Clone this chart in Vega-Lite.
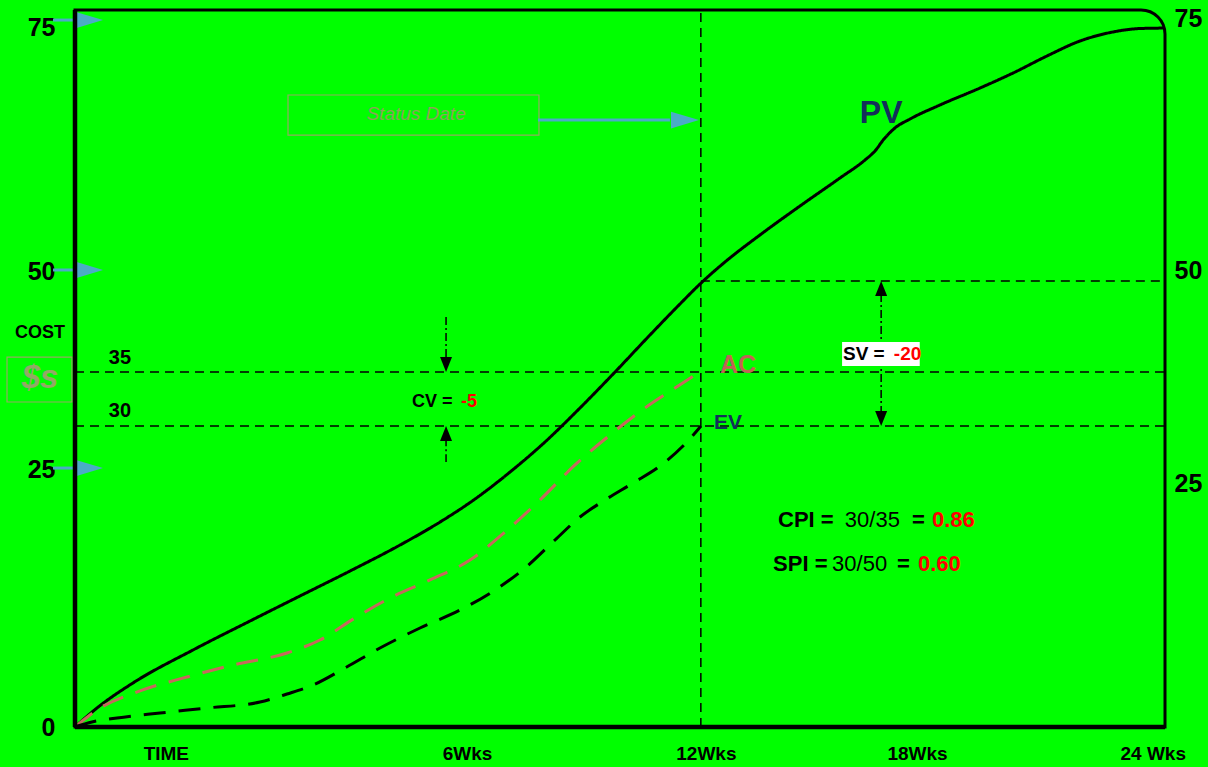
{
  "$schema": "https://vega.github.io/schema/vega-lite/v6.json",
  "width": 1090,
  "height": 717,
  "autosize": {"type": "none"},
  "padding": {"left": 75, "top": 10, "right": 43, "bottom": 40},
  "background": "#00ff00",
  "config": {
    "view": {"stroke": null},
    "text": {"font": "Liberation Sans"},
    "axis": {"labelFont": "Liberation Sans", "domain": false, "ticks": false, "grid": false, "labelFlush": false, "labelOverlap": false, "labelColor": "#000000", "labelFontWeight": "bold"}
  },
  "datasets": {
    "curves": [
      {"s": "PV", "x": 0, "y": 0}, {"s": "PV", "x": 0.484, "y": 2.04}, {"s": "PV", "x": 1.277, "y": 4.73}, {"s": "PV", "x": 2.598, "y": 8.27},
      {"s": "PV", "x": 3.853, "y": 11.38}, {"s": "PV", "x": 4.954, "y": 14.07}, {"s": "PV", "x": 6.055, "y": 16.75}, {"s": "PV", "x": 7.156, "y": 19.54},
      {"s": "PV", "x": 8.037, "y": 22.01}, {"s": "PV", "x": 8.807, "y": 24.48}, {"s": "PV", "x": 9.578, "y": 27.38}, {"s": "PV", "x": 10.349, "y": 30.61},
      {"s": "PV", "x": 11.119, "y": 34.26}, {"s": "PV", "x": 11.89, "y": 38.12}, {"s": "PV", "x": 12.66, "y": 42.1}, {"s": "PV", "x": 13.321, "y": 45.43},
      {"s": "PV", "x": 13.761, "y": 47.57}, {"s": "PV", "x": 14.312, "y": 49.94}, {"s": "PV", "x": 15.082, "y": 52.84}, {"s": "PV", "x": 15.963, "y": 55.95},
      {"s": "PV", "x": 16.844, "y": 58.96}, {"s": "PV", "x": 17.394, "y": 60.89}, {"s": "PV", "x": 17.614, "y": 61.86}, {"s": "PV", "x": 17.812, "y": 63.14},
      {"s": "PV", "x": 18.054, "y": 64.33}, {"s": "PV", "x": 18.385, "y": 65.29}, {"s": "PV", "x": 19.046, "y": 66.8}, {"s": "PV", "x": 19.926, "y": 68.62},
      {"s": "PV", "x": 20.653, "y": 70.23}, {"s": "PV", "x": 21.401, "y": 72.06}, {"s": "PV", "x": 22.128, "y": 73.67}, {"s": "PV", "x": 22.855, "y": 74.64},
      {"s": "PV", "x": 23.449, "y": 75.01}, {"s": "PV", "x": 24.0, "y": 75.06},
      {"s": "AC", "x": 0, "y": 0}, {"s": "AC", "x": 0.484, "y": 1.83}, {"s": "AC", "x": 1.431, "y": 3.87}, {"s": "AC", "x": 2.466, "y": 5.37},
      {"s": "AC", "x": 3.479, "y": 6.66}, {"s": "AC", "x": 4.668, "y": 7.95}, {"s": "AC", "x": 5.394, "y": 9.34}, {"s": "AC", "x": 6.165, "y": 11.71},
      {"s": "AC", "x": 6.936, "y": 13.85}, {"s": "AC", "x": 7.816, "y": 15.79}, {"s": "AC", "x": 8.697, "y": 17.93}, {"s": "AC", "x": 9.468, "y": 20.94},
      {"s": "AC", "x": 10.239, "y": 24.38}, {"s": "AC", "x": 11.009, "y": 28.14}, {"s": "AC", "x": 11.78, "y": 31.36}, {"s": "AC", "x": 12.55, "y": 34.26},
      {"s": "AC", "x": 13.211, "y": 36.4}, {"s": "AC", "x": 13.783, "y": 38.23},
      {"s": "EV", "x": 0, "y": 0}, {"s": "EV", "x": 0.374, "y": 0.54}, {"s": "EV", "x": 0.925, "y": 0.97}, {"s": "EV", "x": 1.872, "y": 1.5},
      {"s": "EV", "x": 2.906, "y": 2.04}, {"s": "EV", "x": 4.073, "y": 2.68}, {"s": "EV", "x": 4.668, "y": 3.54}, {"s": "EV", "x": 5.24, "y": 4.51},
      {"s": "EV", "x": 5.945, "y": 6.34}, {"s": "EV", "x": 6.715, "y": 8.48}, {"s": "EV", "x": 7.596, "y": 10.63}, {"s": "EV", "x": 8.477, "y": 12.56},
      {"s": "EV", "x": 9.248, "y": 14.71}, {"s": "EV", "x": 9.908, "y": 17.07}, {"s": "EV", "x": 10.569, "y": 20.08}, {"s": "EV", "x": 11.119, "y": 22.55},
      {"s": "EV", "x": 11.67, "y": 24.38}, {"s": "EV", "x": 12.286, "y": 26.2}, {"s": "EV", "x": 12.881, "y": 28.03}, {"s": "EV", "x": 13.475, "y": 30.61},
      {"s": "EV", "x": 13.783, "y": 32.32}
    ],
    "frame": [{"x": 0, "x2": 24, "y": 0, "y2": 77}],
    "borders": [{"x": 0, "x2": 0, "y": 0, "y2": 77}, {"x": 0, "x2": 24, "y": 0, "y2": 0}],
    "refLines": [
      {"x": 0, "x2": 24, "y": 38.12, "y2": 38.12},
      {"x": 0, "x2": 24, "y": 32.32, "y2": 32.32},
      {"x": 13.78, "x2": 24, "y": 47.9, "y2": 47.9},
      {"x": 13.78, "x2": 13.78, "y": 0, "y2": 77}
    ],
    "boxes": [
      {"x": -1.497, "x2": -0.066, "y": 34.9, "y2": 39.73},
      {"x": 4.69, "x2": 10.216, "y": 63.57, "y2": 67.87}
    ],
    "whiteBox": [{"x": 16.89, "x2": 18.6, "y": 38.77, "y2": 41.34}],
    "cyanArrows": [
      {"x": -0.484, "x2": 0.1, "tip": 0.617, "y": 75.92},
      {"x": -0.484, "x2": 0.1, "tip": 0.617, "y": 49.08},
      {"x": -0.484, "x2": 0.1, "tip": 0.617, "y": 27.81},
      {"x": 10.194, "x2": 13.1, "tip": 13.74, "y": 65.18}
    ],
    "dashDot": [
      {"x": 8.17, "x2": 8.17, "y": 44.03, "y2": 39.5},
      {"x": 8.17, "x2": 8.17, "y": 31.0, "y2": 28.46},
      {"x": 17.75, "x2": 17.75, "y": 46.5, "y2": 33.5}
    ],
    "heads": [
      {"x": 8.17, "y": 38.12, "dir": "down"},
      {"x": 8.17, "y": 32.32, "dir": "up"},
      {"x": 17.75, "y": 47.9, "dir": "up"},
      {"x": 17.75, "y": 32.32, "dir": "down"}
    ],
    "labels": [
      {"g": "cost", "text": "COST", "x": -0.77, "y": 42.31},
      {"g": "dollar", "text": "$s", "x": -0.77, "y": 37.48},
      {"g": "lvl", "text": "35", "x": 0.99, "y": 39.63},
      {"g": "lvl", "text": "30", "x": 0.99, "y": 33.93},
      {"g": "cvb", "text": "CV =", "x": 7.42, "y": 34.9},
      {"g": "cvr", "text": "-5", "x": 8.5, "y": 34.9},
      {"g": "svb", "text": "SV =", "x": 16.91, "y": 40.06},
      {"g": "svr", "text": "-20", "x": 18.03, "y": 40.06},
      {"g": "idxb", "text": "CPI =", "x": 15.48, "y": 22.23},
      {"g": "idxn", "text": "30/35", "x": 16.95, "y": 22.23},
      {"g": "idxb", "text": "=", "x": 18.43, "y": 22.23},
      {"g": "idxr", "text": "0.86", "x": 18.87, "y": 22.23},
      {"g": "idxb", "text": "SPI =", "x": 15.37, "y": 17.5},
      {"g": "idxn", "text": "30/50", "x": 16.67, "y": 17.5},
      {"g": "idxb", "text": "=", "x": 18.1, "y": 17.5},
      {"g": "idxr", "text": "0.60", "x": 18.56, "y": 17.5},
      {"g": "pv", "text": "PV", "x": 17.75, "y": 65.94},
      {"g": "ac", "text": "AC", "x": 14.2, "y": 38.87},
      {"g": "ev", "text": "EV", "x": 14.07, "y": 32.65},
      {"g": "status", "text": "Status Date", "x": 7.51, "y": 65.83}
    ],
    "rightAxis": [{"x": 24, "y": 26.2}, {"x": 24, "y": 49.0}, {"x": 24, "y": 76.14}]
  },
  "encoding": {
    "x": {
      "field": "x", "type": "quantitative",
      "scale": {"domain": [0, 24], "nice": false, "zero": false},
      "axis": {
        "values": [2.0, 8.63, 13.89, 18.54, 23.73],
        "labelExpr": "datum.value < 5 ? 'TIME' : datum.value < 11 ? '6Wks' : datum.value < 16 ? '12Wks' : datum.value < 21 ? '18Wks' : '24 Wks'",
        "labelFontSize": 19, "labelPadding": 17, "title": null
      }
    },
    "y": {
      "field": "y", "type": "quantitative",
      "scale": {"domain": [0, 77], "nice": false, "zero": false},
      "axis": {
        "values": [0, 27.6, 48.9, 75.17],
        "labelExpr": "datum.value < 1 ? '0' : datum.value < 35 ? '25' : datum.value < 60 ? '50' : '75'",
        "labelFontSize": 25, "labelPadding": 20, "title": null
      }
    }
  },
  "layer": [
    {
      "layer": [
        {
          "data": {"name": "refLines"},
          "mark": {"type": "rule", "color": "#000000", "strokeWidth": 1.5, "strokeDash": [9, 6]},
          "encoding": {"x2": {"field": "x2"}, "y2": {"field": "y2"}}
        },
        {
          "data": {"name": "boxes"},
          "mark": {"type": "rect", "fill": "transparent", "stroke": "#93aa62", "strokeWidth": 1.2},
          "encoding": {"x2": {"field": "x2"}, "y2": {"field": "y2"}}
        },
        {
          "data": {"name": "curves"},
          "mark": {"type": "line", "strokeWidth": 3, "interpolate": "monotone"},
          "encoding": {
            "color": {"field": "s", "type": "nominal", "scale": {"domain": ["PV", "AC", "EV"], "range": ["#000000", "#c46a5c", "#000000"]}, "legend": null},
            "strokeDash": {"field": "s", "type": "nominal", "scale": {"domain": ["PV", "AC", "EV"], "range": [[1, 0], [22, 13], [22, 13]]}, "legend": null}
          }
        },
        {
          "data": {"name": "cyanArrows"},
          "mark": {"type": "rule", "color": "#4bacc6", "strokeWidth": 3},
          "encoding": {"x2": {"field": "x2"}}
        },
        {
          "data": {"name": "cyanArrows"},
          "mark": {"type": "point", "filled": true, "color": "#4bacc6", "opacity": 1, "size": 784, "shape": "M0,0L-2,-0.6L-2,0.6Z"},
          "encoding": {"x": {"field": "tip", "type": "quantitative", "scale": {"domain": [0, 24], "nice": false, "zero": false}}}
        },
        {
          "data": {"name": "dashDot"},
          "mark": {"type": "rule", "color": "#000000", "strokeWidth": 1.5, "strokeDash": [8, 3, 2, 3]},
          "encoding": {"x2": {"field": "x2"}, "y2": {"field": "y2"}}
        },
        {
          "data": {"name": "heads"},
          "mark": {"type": "point", "filled": true, "color": "#000000", "opacity": 1, "size": 225},
          "encoding": {
            "shape": {"field": "dir", "type": "nominal", "scale": {"domain": ["down", "up"], "range": ["M0,0L-0.8,-2L0.8,-2Z", "M0,0L-0.8,2L0.8,2Z"]}, "legend": null}
          }
        },
        {
          "data": {"name": "whiteBox"},
          "mark": {"type": "rect", "fill": "#ffffff"},
          "encoding": {"x2": {"field": "x2"}, "y2": {"field": "y2"}}
        },
        {
          "data": {"name": "borders"},
          "mark": {"type": "rule", "color": "#000000", "strokeWidth": 4.5},
          "encoding": {"x2": {"field": "x2"}, "y2": {"field": "y2"}}
        },
        {
          "data": {"name": "frame"},
          "mark": {"type": "rect", "fill": "transparent", "stroke": "#000000", "strokeWidth": 3, "cornerRadiusTopRight": 24},
          "encoding": {"x2": {"field": "x2"}, "y2": {"field": "y2"}}
        },
        {"data": {"name": "labels"}, "transform": [{"filter": "datum.g == 'cost'"}], "mark": {"type": "text", "fontSize": 18, "fontWeight": "bold", "color": "#000000", "align": "center", "baseline": "middle"}, "encoding": {"text": {"field": "text"}}},
        {"data": {"name": "labels"}, "transform": [{"filter": "datum.g == 'dollar'"}], "mark": {"type": "text", "fontSize": 33, "fontWeight": "bold", "fontStyle": "italic", "color": "#93a866", "align": "center", "baseline": "middle"}, "encoding": {"text": {"field": "text"}}},
        {"data": {"name": "labels"}, "transform": [{"filter": "datum.g == 'lvl'"}], "mark": {"type": "text", "fontSize": 20, "fontWeight": "bold", "color": "#000000", "align": "center", "baseline": "middle"}, "encoding": {"text": {"field": "text"}}},
        {"data": {"name": "labels"}, "transform": [{"filter": "datum.g == 'cvb'"}], "mark": {"type": "text", "fontSize": 18, "fontWeight": "bold", "color": "#000000", "align": "left", "baseline": "middle"}, "encoding": {"text": {"field": "text"}}},
        {"data": {"name": "labels"}, "transform": [{"filter": "datum.g == 'cvr'"}], "mark": {"type": "text", "fontSize": 18, "fontWeight": "bold", "color": "#ff0000", "align": "left", "baseline": "middle"}, "encoding": {"text": {"field": "text"}}},
        {"data": {"name": "labels"}, "transform": [{"filter": "datum.g == 'svb'"}], "mark": {"type": "text", "fontSize": 19, "fontWeight": "bold", "color": "#000000", "align": "left", "baseline": "middle"}, "encoding": {"text": {"field": "text"}}},
        {"data": {"name": "labels"}, "transform": [{"filter": "datum.g == 'svr'"}], "mark": {"type": "text", "fontSize": 19, "fontWeight": "bold", "color": "#ff0000", "align": "left", "baseline": "middle"}, "encoding": {"text": {"field": "text"}}},
        {"data": {"name": "labels"}, "transform": [{"filter": "datum.g == 'idxb'"}], "mark": {"type": "text", "fontSize": 22, "fontWeight": "bold", "color": "#000000", "align": "left", "baseline": "middle"}, "encoding": {"text": {"field": "text"}}},
        {"data": {"name": "labels"}, "transform": [{"filter": "datum.g == 'idxn'"}], "mark": {"type": "text", "fontSize": 22, "fontWeight": "normal", "color": "#000000", "align": "left", "baseline": "middle"}, "encoding": {"text": {"field": "text"}}},
        {"data": {"name": "labels"}, "transform": [{"filter": "datum.g == 'idxr'"}], "mark": {"type": "text", "fontSize": 22, "fontWeight": "bold", "color": "#ff0000", "align": "left", "baseline": "middle"}, "encoding": {"text": {"field": "text"}}},
        {"data": {"name": "labels"}, "transform": [{"filter": "datum.g == 'pv'"}], "mark": {"type": "text", "fontSize": 32, "fontWeight": "bold", "color": "#13305a", "align": "center", "baseline": "middle"}, "encoding": {"text": {"field": "text"}}},
        {"data": {"name": "labels"}, "transform": [{"filter": "datum.g == 'ac'"}], "mark": {"type": "text", "fontSize": 25, "fontWeight": "bold", "color": "#c06454", "align": "left", "baseline": "middle"}, "encoding": {"text": {"field": "text"}}},
        {"data": {"name": "labels"}, "transform": [{"filter": "datum.g == 'ev'"}], "mark": {"type": "text", "fontSize": 21, "fontWeight": "bold", "color": "#13305a", "align": "left", "baseline": "middle"}, "encoding": {"text": {"field": "text"}}},
        {"data": {"name": "labels"}, "transform": [{"filter": "datum.g == 'status'"}], "mark": {"type": "text", "fontSize": 19, "fontStyle": "italic", "color": "#8ca25a", "align": "center", "baseline": "middle"}, "encoding": {"text": {"field": "text"}}}
      ]
    },
    {
      "data": {"name": "rightAxis"},
      "mark": {"type": "point", "opacity": 0},
      "encoding": {
        "y": {
          "field": "y", "type": "quantitative",
          "scale": {"domain": [0, 77], "nice": false, "zero": false},
          "axis": {
            "orient": "right",
            "values": [26.2, 49.0, 76.14],
            "labelExpr": "datum.value < 35 ? '25' : datum.value < 60 ? '50' : '75'",
            "labelFontSize": 25, "labelPadding": 9, "title": null
          }
        }
      }
    }
  ],
  "resolve": {"scale": {"y": "independent"}}
}
